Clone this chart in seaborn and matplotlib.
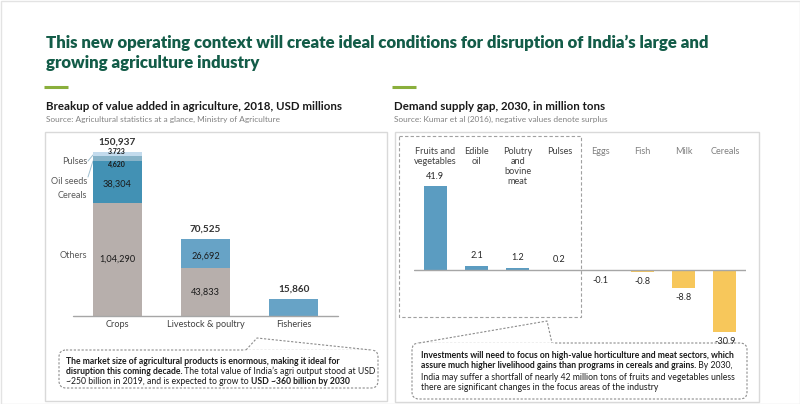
import matplotlib
matplotlib.use("Agg")
import matplotlib.pyplot as plt
import matplotlib.transforms as mtransforms
from matplotlib.patches import FancyBboxPatch, Rectangle
import seaborn as sns

sns.set_theme(style="white")
plt.rcParams['font.family'] = ['Lato', 'DejaVu Sans']

# ---- data ----
# left: value added in agriculture 2018, USD millions
sectors = ["Crops", "Livestock & poultry", "Fisheries"]
others = [104290, 43833, 0]
cereals_or_animal = [38304, 26692, 15860]
oil_seeds = [4620, 0, 0]
pulses = [3723, 0, 0]
segment_labels = {"others": ["1,04,290", "43,833", ""],
                  "mid": ["38,304", "26,692", ""],
                  "oil": ["4,620", "", ""],
                  "pulses": ["3.723", "", ""]}
totals = [a + b + c + d for a, b, c, d in zip(others, cereals_or_animal, oil_seeds, pulses)]

# right: demand supply gap 2030, million tons
items = ["Fruits and\nvegetables", "Edible\noil", "Polutry\nand\nbovine\nmeat", "Pulses",
         "Eggs", "Fish", "Milk", "Cereals"]
gap = [41.9, 2.1, 1.2, 0.2, -0.1, -0.8, -8.8, -30.9]

GREEN = "#135c48"
GREY = "#b7afac"
C_CEREAL = "#4291b4"
C_ANIMAL = "#67a3c6"
C_OIL = "#87b3c8"
C_PULSE = "#c3dbed"
BLUE = "#5b9cc1"
YELLOW = "#f7c75b"

W, H = 800, 404
fig = plt.figure(figsize=(W / 100, H / 100), dpi=100)
fig.patch.set_facecolor("white")

# pixel overlay for text and frames
ov = fig.add_axes([0, 0, 1, 1])
ov.set_xlim(0, W)
ov.set_ylim(H, 0)
ov.axis("off")


def box(x0, y0, x1, y1):
    return [x0 / W, 1 - y1 / H, (x1 - x0) / W, (y1 - y0) / H]


ov.add_patch(Rectangle((0.5, 0.5), W - 1, H - 1, fill=False, ec="#e3e3e3", lw=1))

# headline
ov.text(46, 43, "This new operating context will create ideal conditions for disruption of India\u2019s large and",
        color=GREEN, fontsize=12.1, fontweight="heavy", va="center")
ov.text(46, 63, "growing agriculture industry", color=GREEN, fontsize=12.1, fontweight="heavy", va="center")
for x0 in (44, 392):
    ov.plot([x0, x0 + 24], [87, 87], color="#8aaf3c", lw=2.2, solid_capstyle="butt")

ov.text(46, 106, "Breakup of value added in agriculture, 2018, USD millions", fontsize=8.3,
        fontweight="bold", color="#1a1a1a", va="center")
ov.text(46, 119, "Source: Agricultural statistics at a glance, Ministry of Agriculture", fontsize=5.95,
        color="#808080", va="center")
ov.text(394, 106, "Demand supply gap, 2030, in million tons", fontsize=8.3,
        fontweight="bold", color="#1a1a1a", va="center")
ov.text(394, 119, "Source: Kumar et al (2016), negative values denote surplus", fontsize=5.95,
        color="#808080", va="center")

# panel frames
ov.add_patch(Rectangle((45, 132), 342, 269, fill=False, ec="#d9d9d9", lw=1))
ov.add_patch(Rectangle((395, 132), 364, 270, fill=False, ec="#d9d9d9", lw=1))

# ---- left chart ----
axl = fig.add_axes(box(73, 140, 338, 316))
axl.patch.set_alpha(0)
layers = [
    ([a + b + c + d for a, b, c, d in zip(others, cereals_or_animal, oil_seeds, pulses)], [C_PULSE, C_ANIMAL, C_ANIMAL]),
    ([a + b + c for a, b, c in zip(others, cereals_or_animal, oil_seeds)], [C_OIL, C_ANIMAL, C_ANIMAL]),
    ([a + b for a, b in zip(others, cereals_or_animal)], [C_CEREAL, C_ANIMAL, C_ANIMAL]),
    (others, [GREY, GREY, GREY]),
]
for vals, cols in layers:
    sns.barplot(x=sectors, y=vals, hue=sectors, palette=dict(zip(sectors, cols)), legend=False,
                saturation=1, width=0.555, linewidth=0, ax=axl)
axl.set_ylim(0, 162000)
axl.set_xlim(-0.5, 2.5)
sns.despine(ax=axl, left=True, bottom=True)
axl.axhline(0, color="#a6a6a6", lw=1, clip_on=False)
axl.set_yticks([])
axl.set_ylabel("")
axl.tick_params(axis="x", length=0, pad=3, labelsize=6.6, labelcolor="#404040")

for i, t in enumerate(totals):
    axl.annotate(f"{t:,}", (i, t), xytext=(0, 4), textcoords="offset points", ha="center",
                 va="bottom", fontsize=7.2, fontweight="bold", color="#333333")
base = [0, 0, 0]
for key, seg, dy in [("others", others, 0), ("mid", cereals_or_animal, -2),
                     ("oil", oil_seeds, -4.5), ("pulses", pulses, 1.5)]:
    for i, v in enumerate(seg):
        lab = segment_labels[key][i]
        if lab:
            small = key in ("oil", "pulses")
            axl.annotate(lab, (i, base[i] + v / 2), xytext=(0, dy), textcoords="offset points",
                         ha="center", va="center", fontsize=5 if small else 6.6,
                         fontweight="bold" if small else "normal", color="#1a1a1a")
        base[i] += v

for name, y in [("Pulses", 162), ("Oil seeds", 181), ("Cereals", 196), ("Others", 256)]:
    ov.text(87, y, name, ha="right", va="center", fontsize=6.6, color="#595959")
ov.plot([88, 93], [161, 155], color="#9fbfd0", lw=0.7)
ov.plot([88, 93], [177, 161], color="#9fbfd0", lw=0.7)

# ---- right chart ----
axr = fig.add_axes(box(414.3, 180, 745.7, 335))
axr.patch.set_alpha(0)
kind = ["gap" if v > 0 else "surplus" for v in gap]
sns.barplot(x=items, y=gap, hue=kind, palette={"gap": BLUE, "surplus": YELLOW}, dodge=False,
            legend=False, saturation=1, width=0.555, linewidth=0, ax=axr)
axr.set_ylim(-32.5, 45)
axr.set_xlim(-0.5, 7.5)
sns.despine(ax=axr, left=True, bottom=True)
axr.axhline(0, color="#a6a6a6", lw=1)
axr.set_yticks([])
axr.set_xticks([])
axr.set_ylabel("")
for i, v in enumerate(gap):
    axr.annotate(f"{v:.1f}", (i, v), xytext=(0, 4 if v > 0 else -4), textcoords="offset points",
                 ha="center", va="bottom" if v > 0 else "top", fontsize=6.6, color="#262626",
                 annotation_clip=False)
trans = mtransforms.blended_transform_factory(axr.transData, ov.transData)
for i, name in enumerate(items):
    axr.text(i, 147, name, transform=trans, ha="center", va="top", fontsize=6.6,
             linespacing=1.15, color="#404040" if gap[i] > 0 else "#808080", clip_on=False)
ov.add_patch(Rectangle((399, 136), 182, 181, fill=False, ec="#a0a0a0", lw=0.8, ls=(0, (3, 2))))


# ---- callouts ----
def callout(x0, y0, x1, y1, base_l, base_r, tip):
    ov.add_patch(FancyBboxPatch((x0, y0), x1 - x0, y1 - y0, boxstyle="round,pad=0,rounding_size=7",
                                fc="white", ec="#8c8c8c", lw=0.8, ls=(0, (2, 1.5))))
    ov.plot([base_l[0], base_r[0]], [base_l[1], base_r[1]], color="white", lw=1.8)
    ov.plot([base_l[0], tip[0], base_r[0]], [base_l[1], tip[1], base_r[1]], color="#8c8c8c",
            lw=0.8, ls=(0, (2, 1.5)))


def rich_line(x, y, parts, size=6.2):
    prev = None
    for txt, bold in parts:
        w = "bold" if bold else "normal"
        if prev is None:
            prev = ov.text(x, y, txt, fontsize=size, fontweight=w, va="center", color="#1a1a1a")
        else:
            prev = ov.annotate(txt, xy=(1, 0), xycoords=prev, va="bottom", ha="left",
                               fontsize=size, fontweight=w, color="#1a1a1a")


callout(59, 350, 378, 388, (246, 350), (371, 350), (257, 338))
rich_line(66, 361, [("The market size of agricultural products is enormous, making it ideal for", True)])
rich_line(66, 371, [("disruption this coming decade.", True),
                    (" The total value of India\u2019s agri output stood at USD", False)])
rich_line(66, 381, [("~250 billion in 2019, and is expected to grow to ", False),
                    ("USD ~360 billion by 2030", True)])

callout(412, 343, 747, 399, (419, 343), (552, 343), (547, 321))
rich_line(421, 355, [("Investments will need to focus on high-value horticulture and meat sectors, which", True)])
rich_line(421, 366, [("assure much higher livelihood gains than programs in cereals and grains.", True),
                     (" By 2030,", False)])
rich_line(421, 377, [("India may suffer a shortfall of nearly 42 million tons of fruits and vegetables unless", False)])
rich_line(421, 388, [("there are significant changes in the focus areas of the industry", False)])

fig.savefig("out.png", dpi=100, facecolor="white")
